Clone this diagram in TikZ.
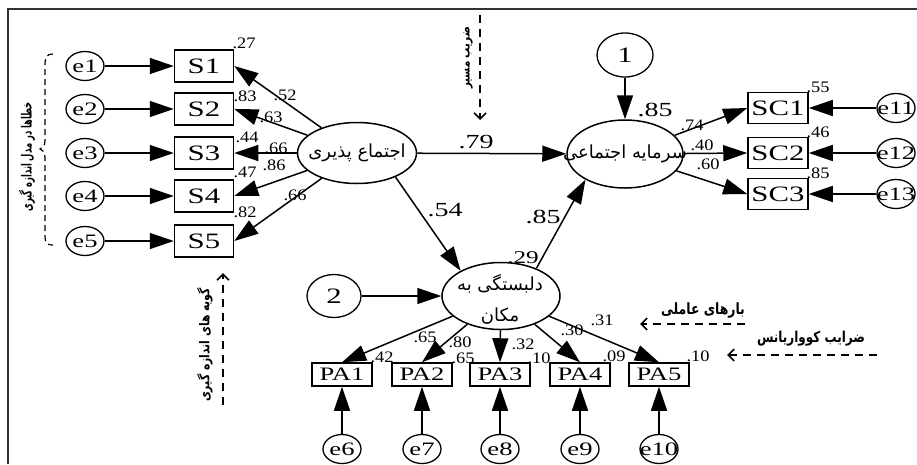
\documentclass[tikz,border=0pt]{standalone}
\usepackage{fontspec}
\setmainfont{Liberation Serif}
\newfontfamily\wser[FakeStretch=1.4]{Liberation Serif}
\newfontfamily\nser[FakeStretch=1.15]{Liberation Serif}
\newfontfamily\arabicfont[Script=Arabic]{DejaVu Sans}
\newfontfamily\arnote[Script=Arabic,FakeStretch=0.8]{DejaVu Sans}
\newfontfamily\arnotec[Script=Arabic,FakeStretch=0.6]{DejaVu Sans}
\TeXXeTstate=1
\usetikzlibrary{shapes.geometric,arrows.meta}
\newcommand{\cz}[1]{\makebox[0pt]{#1}}
\newcommand{\ar}[1]{\arabicfont\beginR #1\endR}
\newcommand{\arn}[1]{\arnote\bfseries\beginR #1\endR}
\newcommand{\arc}[1]{\arnotec\bfseries\beginR #1\endR}
\tikzset{
 ln/.style={line width=1.5pt},
 arr/.style={ln,-{Triangle[length=24pt,width=16pt]}},
 obs/.style={draw,ln,rectangle,minimum width=59pt,minimum height=32pt,inner sep=0pt,font=\wser\fontsize{22}{22}\selectfont},
 pa/.style={obs,minimum width=60pt,minimum height=23pt,font=\wser\fontsize{19}{19}\selectfont},
 err/.style={draw,line width=1.3pt,ellipse,minimum width=38pt,minimum height=29pt,inner sep=0pt,font=\wser\fontsize{19}{19}\selectfont},
 lat/.style={draw,ln,ellipse,inner sep=0pt,font=\arabicfont\fontsize{18}{18}\selectfont},
 lt/.style={inner sep=0pt,font=\arabicfont\fontsize{18}{18}\selectfont},
 sm/.style={inner sep=0pt,font=\nser\fontsize{16}{16}\selectfont},
 bg/.style={inner sep=0pt,font=\wser\fontsize{20}{20}\selectfont},
 note/.style={inner sep=0pt,font=\fontsize{13.5}{13.5}\selectfont},
 dsh/.style={line width=1.8pt,dash pattern=on 8pt off 6pt,-{Straight Barb[length=6pt,width=12pt,line width=1.6pt]}}
}
\begin{document}
\begin{tikzpicture}[x=1pt,y=-1pt]
\useasboundingbox (0,0) rectangle (917,464);
\draw[black!80,line width=1.5pt] (8,464) -- (8,9) -- (917,9);

% latent variables
\node[lat,minimum width=119pt,minimum height=61pt] (soc) at (357,153) {\cz{\ar{اجتماع پذیری}}};
\node[lat,minimum width=116pt,minimum height=68pt] (rsc) at (625,154) {\cz{\ar{سرمایه اجتماعی}}};
\node[lat,minimum width=118pt,minimum height=67pt] (att) at (501,296) {};
\node[lt] (att1) at (500,284) {\ar{دلبستگی به}};
\node[lt] (att2) at (500,316) {\ar{مکان}};
\node[err,minimum width=56pt,minimum height=44pt,font=\wser\fontsize{22}{22}\selectfont] (c1) at (625,55) {1};
\node[err,minimum width=54pt,minimum height=43pt,font=\wser\fontsize{22}{22}\selectfont] (c2) at (334,296) {2};

% S boxes
\foreach \i/\y in {1/66,2/109,3/153,4/196,5/241}{
  \node[obs] (S\i) at (204,\y) {S\i};
  \node[err] (e\i) at (85,\y) {\cz{e\i}};
  \draw[arr] (e\i) -- (S\i);
  \draw[arr] (soc) -- (S\i.east);
}
% SC boxes
\foreach \i/\y/\e in {1/108/11,2/153/12,3/194/13}{
  \node[obs,minimum width=60pt,minimum height=31pt] (SC\i) at (778,\y) {SC\i};
  \node[err] (e\e) at (896,\y) {\cz{e\e}};
  \draw[arr] (e\e) -- (SC\i);
  \draw[arr] (rsc) -- (SC\i.west);
}
% PA boxes
\foreach \i/\x/\e in {1/342/6,2/422/7,3/500/8,4/580/9,5/659/10}{
  \node[pa] (PA\i) at (\x,374.5) {PA\i};
  \node[err] (e\e) at (\x,449) {\cz{e\e}};
  \draw[arr] (e\e) -- (PA\i);
  \draw[arr] (att) -- (PA\i.north);
}

% structural paths
\draw[arr] (soc) -- (rsc);
\draw[arr] (soc.-32) -- (att.148);
\draw[arr] (att.38) -- (rsc.213);
\draw[arr] (c1) -- (rsc);
\draw[arr] (c2) -- (att);

% numbers left
\node[sm] (n27) at (244,43) {.27};
\node[sm] (n52) at (285,95) {.52};
\node[sm] (n83) at (245,96) {.83};
\node[sm] (n63) at (271,117) {.63};
\node[sm] (n44) at (247,137) {.44};
\node[sm] (n66a) at (276,148) {.66};
\node[sm] (n86) at (274,165) {.86};
\node[sm] (n47) at (245,172) {.47};
\node[sm] (n66b) at (295,195) {.66};
\node[sm] (n82) at (245,212) {.82};
% big
\node[bg] (n54) at (445,210) {.54};
\node[bg] (n79) at (476,142) {.79};
\node[bg] (n85a) at (543,217) {.85};
\node[bg] (n85b) at (655,110) {.85};
\node[bg,font=\wser\fontsize{18}{18}\selectfont] (n29) at (523,258) {.29};
% right
\node[sm] (n74) at (692,125) {.74};
\node[sm] (n40) at (702,145) {.40};
\node[sm] (n60) at (708,164) {.60};
\node[sm] (n55) at (818,87) {.55};
\node[sm] (n46) at (818,132) {.46};
\node[sm] (n85c) at (818,173) {.85};
% bottom
\node[sm] (n65a) at (425,337) {.65};
\node[sm] (n80) at (460,342) {.80};
\node[sm] (n32) at (523,344) {.32};
\node[sm] (n30) at (572,330) {.30};
\node[sm] (n31) at (602,320) {.31};
\node[sm] (n42) at (382,357) {.42};
\node[sm] (n65b) at (463,358) {.65};
\node[sm] (n10a) at (539,358) {.10};
\node[sm] (n09) at (614,356) {.09};
\node[sm] (n10b) at (698,356) {.10};

% annotations
\node[note,rotate=90,font=\fontsize{12.8}{12.8}\selectfont] (t1) at (468,58) {\arn{ضریب مسیر}};
\coordinate (a1s) at (480,15); \coordinate (a1e) at (480,120);
\draw[dsh] (a1s) -- (a1e);
\node[note,rotate=90] (t2) at (205,345) {\arn{گویه های اندازه گیری}};
\coordinate (a2s) at (223,405); \coordinate (a2e) at (223,273);
\draw[dsh] (a2s) -- (a2e);
\node[note,font=\fontsize{15.5}{15.5}\selectfont] (t3) at (703,310) {\arn{بارهای عاملی}};
\coordinate (a3s) at (745,324); \coordinate (a3e) at (640,324);
\draw[dsh] (a3s) -- (a3e);
\node[note,font=\fontsize{15}{15}\selectfont] (t4) at (811,339) {\arn{ضرایب کوواریانس}};
\coordinate (a4s) at (877,355); \coordinate (a4e) at (727,355);
\draw[dsh] (a4s) -- (a4e);
\node[note,rotate=90,font=\fontsize{14}{14}\selectfont] (t5) at (27,157) {\arc{خطاها در مدل اندازه گیری}};
\draw[line width=1.2pt,dash pattern=on 6pt off 4pt] (53,54) .. controls (46,54) and (45,58) .. (45,66) -- (45,140) .. controls (45,146) and (43,148) .. (40,149) .. controls (43,150) and (45,152) .. (45,158) -- (45,236) .. controls (45,242) and (46,245) .. (53,245);
\end{tikzpicture}
\end{document}
